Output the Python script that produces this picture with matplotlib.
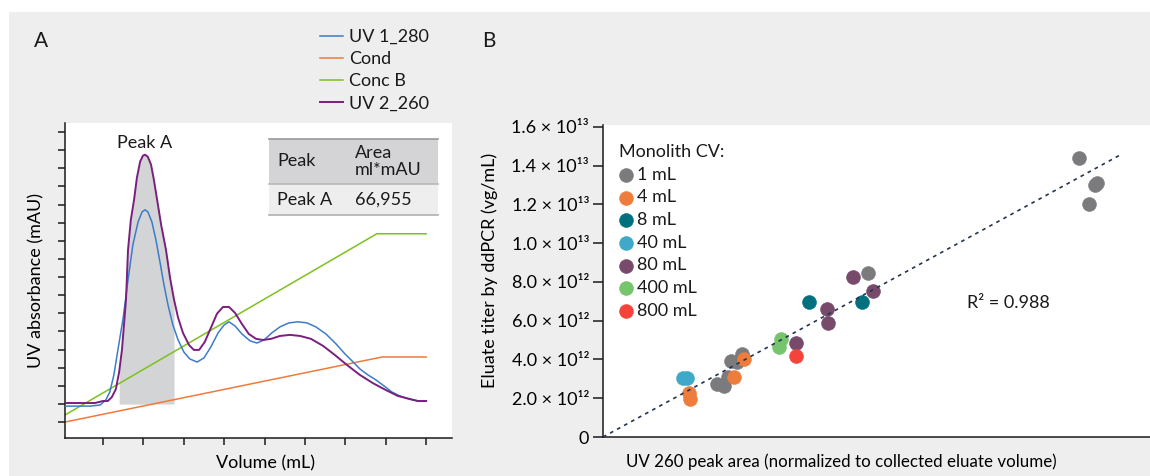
import matplotlib
matplotlib.use("Agg")
import math
import matplotlib.pyplot as plt
from matplotlib.lines import Line2D
from matplotlib.patches import Rectangle

plt.rcParams['font.family'] = ['Lato', 'DejaVu Sans']
plt.rcParams['font.size'] = 13
plt.rcParams['text.color'] = '#1a1a1a'

W, H = 1150, 476

# ---------------- Panel A: chromatogram ----------------
volume_uv280 = [0.06, 0.68, 0.93, 1.07, 1.17, 1.27, 1.37, 1.50, 1.62, 1.74, 1.87, 1.97,
                2.04, 2.11, 2.21, 2.31, 2.41, 2.51, 2.61, 2.73, 2.86, 3.00, 3.15, 3.33,
                3.50, 3.67, 3.85, 4.00, 4.12, 4.27, 4.44, 4.64, 4.81, 4.99, 5.18, 5.38,
                5.60, 5.83, 6.05, 6.27, 6.52, 6.77, 6.99, 7.19, 7.36, 7.56, 7.76, 7.96,
                8.15, 8.35, 8.57, 8.80, 9.00]
uv280 = [1.88, 1.88, 1.94, 2.22, 2.66, 3.60, 4.98, 6.75, 8.85, 10.78, 12.05, 12.60,
         12.71, 12.60, 12.05, 11.06, 9.84, 8.57, 7.46, 6.36, 5.53, 4.87, 4.48, 4.31,
         4.54, 5.14, 5.92, 6.36, 6.53, 6.30, 5.86, 5.48, 5.36, 5.53, 5.92, 6.25,
         6.47, 6.53, 6.47, 6.25, 5.86, 5.31, 4.76, 4.32, 3.93, 3.60, 3.32, 2.99,
         2.66, 2.44, 2.27, 2.16, 2.16]

volume_uv260 = [0.06, 0.80, 1.00, 1.12, 1.22, 1.32, 1.40, 1.47, 1.57, 1.62, 1.69, 1.77,
                1.84, 1.92, 1.99, 2.04, 2.11, 2.19, 2.26, 2.34, 2.44, 2.56, 2.66, 2.76,
                2.86, 2.98, 3.13, 3.25, 3.38, 3.52, 3.67, 3.82, 3.97, 4.12, 4.27, 4.44,
                4.61, 4.79, 4.96, 5.16, 5.38, 5.63, 5.88, 6.15, 6.45, 6.74, 7.04, 7.36,
                7.68, 8.00, 8.30, 8.60, 8.80, 9.00]
uv260 = [2.05, 2.05, 2.16, 2.16, 2.38, 2.82, 3.76, 4.98, 7.74, 10.50, 12.16, 13.27,
         14.48, 15.37, 15.70, 15.75, 15.64, 15.20, 14.37, 13.27, 11.88, 10.50, 8.96, 7.74,
         6.75, 5.92, 5.25, 4.98, 4.98, 5.42, 6.19, 6.97, 7.35, 7.35, 7.02, 6.41,
         5.86, 5.59, 5.53, 5.59, 5.75, 5.81, 5.75, 5.59, 5.20, 4.70, 4.15, 3.60,
         3.15, 2.77, 2.44, 2.27, 2.16, 2.16]

volume_cond = [0.06, 7.91, 9.00]
cond = [1.00, 4.59, 4.59]
volume_conc_b = [0.06, 7.78, 9.00]
conc_b = [1.39, 11.39, 11.39]

peak_start, peak_end = 1.40, 2.76
peak_baseline = 1.99
peak_name = "Peak A"
table_columns = ["Peak", "Area\nml*mAU"]
table_rows = [["Peak A", "66,955"]]

# ---------------- Panel B: titer vs. UV 260 area ----------------
cv_labels = ["1 mL", "4 mL", "8 mL", "40 mL", "80 mL", "400 mL", "800 mL"]
cv_colors = ["#7b7b7d", "#ee7d3d", "#00707e", "#40a8c8", "#774a6b", "#74c56c", "#f4433a"]

area_1ml = [1140, 1210, 1250, 1280, 1340, 1390, 2650, 4760, 4940, 4920, 4860]
titer_1ml = [2.735e12, 2.632e12, 3.097e12, 3.922e12, 3.871e12, 4.284e12, 8.464e12,
             1.440e13, 1.311e13, 1.301e13, 1.203e13]
area_4ml = [860, 870, 1310, 1410]
titer_4ml = [2.271e12, 1.961e12, 3.097e12, 4.026e12]
area_8ml = [2060, 2590]
titer_8ml = [6.968e12, 6.968e12]
area_40ml = [800, 840]
titer_40ml = [3.045e12, 3.045e12]
area_80ml = [1930, 2240, 2250, 2500, 2700]
titer_80ml = [4.851e12, 6.606e12, 5.884e12, 8.258e12, 7.535e12]
area_400ml = [1780, 1760]
titer_400ml = [5.058e12, 4.645e12]
area_800ml = [1930]
titer_800ml = [4.180e12]

fit_slope = 2.814e9
fit_area_end = 5190
r_squared = 0.988
titer_ticks = [0, 2e12, 4e12, 6e12, 8e12, 1e13, 1.2e13, 1.4e13, 1.6e13]


def fx(px):
    return px / W


def fy(py):
    return 1 - py / H


fig = plt.figure(figsize=(W / 100, H / 100), dpi=100, facecolor='white')
fig.patches.append(Rectangle((fx(9), 0), 1, fy(12), transform=fig.transFigure,
                             facecolor='#eeeeee', edgecolor='none', zorder=-10))

# ----- Panel A -----
axA = fig.add_axes([fx(65), fy(438), (452 - 65) / W, (438 - 123) / H])
axA.set_facecolor('white')
axA.fill_between(volume_uv260, peak_baseline, uv260,
                 where=[(peak_start <= v <= peak_end) for v in volume_uv260],
                 color='#d3d4d6', lw=0, zorder=1)
l_cond, = axA.plot(volume_cond, cond, color='#f07a3c', lw=1.1, label='Cond', zorder=2)
l_concb, = axA.plot(volume_conc_b, conc_b, color='#7dc11e', lw=1.1, label='Conc B', zorder=2)
l_uv280, = axA.plot(volume_uv280, uv280, color='#3d7cc9', lw=1.1, label='UV 1_280', zorder=3)
l_uv260, = axA.plot(volume_uv260, uv260, color='#7a1f7d', lw=1.4, label='UV 2_260', zorder=4)
axA.set_xlim(0.06, 9.64)
axA.set_ylim(0.12, 17.5)
axA.set_xticks(range(1, 10))
axA.set_yticks(range(1, 18))
axA.tick_params(labelbottom=False, labelleft=False, length=5, width=1.1, color='#1a1a1a')
for s in ['top', 'right']:
    axA.spines[s].set_visible(False)
for s in ['left', 'bottom']:
    axA.spines[s].set_linewidth(1.1)
    axA.spines[s].set_color('#1a1a1a')
axA.set_xlabel('Volume (mL)', va='center')
axA.xaxis.set_label_coords((265 - 65) / 387, (438 - 463) / 315)
axA.set_ylabel('UV absorbance (mAU)', va='center')
axA.yaxis.set_label_coords((36 - 65) / 387, (438 - 280) / 315)
axA.text(2.04, 16.41, peak_name, ha='center', va='center')

# peak table
tx0, tx1 = 269, 438
ty0, ty1, ty2 = 139, 184, 215
fig.patches.append(Rectangle((fx(tx0), fy(ty1)), (tx1 - tx0) / W, (ty1 - ty0) / H,
                             transform=fig.transFigure, facecolor='#d4d4d6',
                             edgecolor='none', zorder=5))
fig.patches.append(Rectangle((fx(tx0), fy(ty2)), (tx1 - tx0) / W, (ty2 - ty1) / H,
                             transform=fig.transFigure, facecolor='#eeeeee',
                             edgecolor='none', zorder=5))
for yy, c in [(ty0, '#9a9a9a'), (ty1, '#b8b8b8'), (ty2, '#b0b0b0')]:
    fig.add_artist(Line2D([fx(tx0), fx(tx1)], [fy(yy), fy(yy)], transform=fig.transFigure,
                          color=c, lw=1.2, zorder=6))
col_x = [277, 355]
fig.text(fx(col_x[0]), fy((ty0 + ty1) / 2), table_columns[0], ha='left', va='center', zorder=7)
fig.text(fx(col_x[1]), fy((ty0 + ty1) / 2), table_columns[1], ha='left', va='center',
         linespacing=1.05, zorder=7)
for j, val in enumerate(table_rows[0]):
    fig.text(fx(col_x[j]), fy((ty1 + ty2) / 2), val, ha='left', va='center', zorder=7)

fig.legend(handles=[l_uv280, l_cond, l_concb, l_uv260], loc='upper left',
           bbox_to_anchor=(fx(320), fy(29)), frameon=False, handlelength=1.25,
           handletextpad=0.35, labelspacing=0.34, borderpad=0, borderaxespad=0)

fig.text(fx(41), fy(41), 'A', ha='center', va='center', fontsize=15)
fig.text(fx(489), fy(41), 'B', ha='center', va='center', fontsize=15)

# ----- Panel B -----
axB = fig.add_axes([fx(603), fy(437), (1150 - 603) / W, (437 - 125) / H])
axB.set_facecolor('white')
xs = [area_1ml, area_4ml, area_8ml, area_40ml, area_80ml, area_400ml, area_800ml]
ys = [titer_1ml, titer_4ml, titer_8ml, titer_40ml, titer_80ml, titer_400ml, titer_800ml]
for x, y, c, lab in zip(xs, ys, cv_colors, cv_labels):
    axB.scatter(x, y, s=100, color=c, edgecolor=c, linewidths=0.4, label=lab, zorder=3)
axB.plot([0, fit_area_end], [0, fit_slope * fit_area_end], color='#24344f', lw=1.2,
         ls=(0, (2.2, 2.6)), zorder=4)
axB.set_xlim(0, 5470)
axB.set_ylim(0, 1.61e13)
axB.set_xticks([])
axB.set_yticks(titer_ticks)
sup = str.maketrans('0123456789', '⁰¹²³⁴⁵⁶⁷⁸⁹')


def fmt_titer(v):
    if v == 0:
        return '0'
    e = int(math.floor(math.log10(v)))
    return f'{v / 10 ** e:.1f} × 10' + str(e).translate(sup)


axB.set_yticklabels([fmt_titer(v) for v in titer_ticks])
axB.tick_params(axis='y', length=7, width=1.1, pad=3, color='#1a1a1a')
for s in ['top', 'right']:
    axB.spines[s].set_visible(False)
for s in ['left', 'bottom']:
    axB.spines[s].set_linewidth(1.1)
    axB.spines[s].set_color('#1a1a1a')
axB.set_xlabel('UV 260 peak area (normalized to collected eluate volume)', va='center',
               fontsize=12.2)
axB.xaxis.set_label_coords((841 - 603) / 547, (437 - 462) / 312)
axB.set_ylabel('Eluate titer by ddPCR (vg/mL)', va='center')
axB.yaxis.set_label_coords((490 - 603) / 547, (437 - 270) / 312)
axB.text((967 - 603) / 547, (437 - 303) / 312, f'R² = {r_squared}', transform=axB.transAxes,
         ha='left', va='center')
axB.legend(title='Monolith CV:', loc='upper left', bbox_to_anchor=(fx(619), fy(144)),
           bbox_transform=fig.transFigure, frameon=False, alignment='left',
           handlelength=0.8, handletextpad=0.22, labelspacing=0.37, borderpad=0,
           borderaxespad=0, scatterpoints=1, title_fontsize=13)

fig.savefig('out.png', dpi=100, facecolor=fig.get_facecolor())
